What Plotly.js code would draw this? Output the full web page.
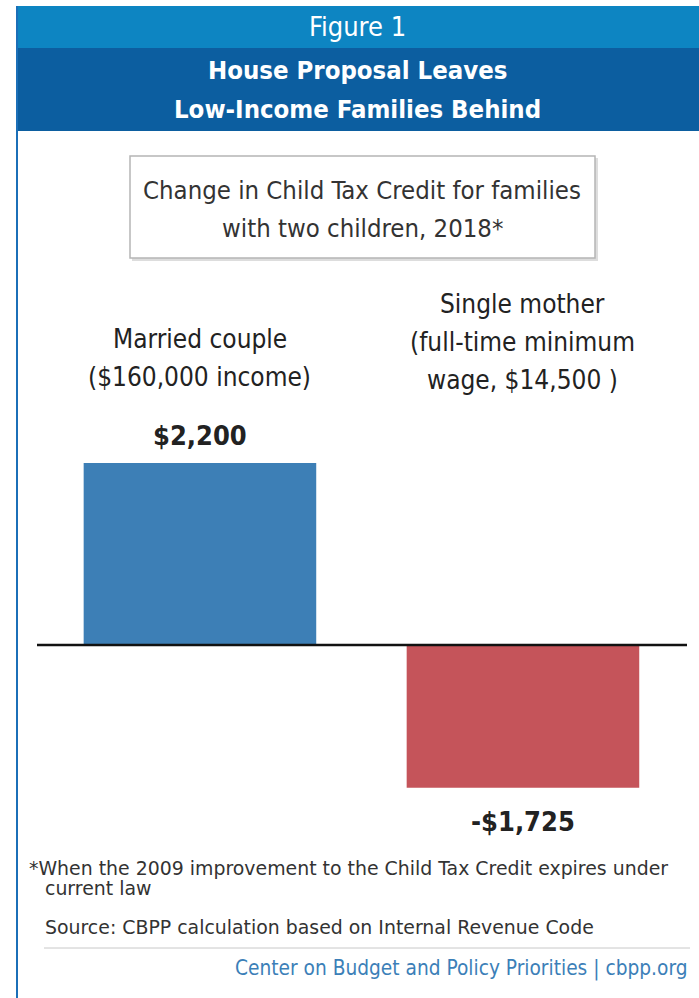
<!DOCTYPE html>
<html>
<head>
<meta charset="utf-8">
<script src="https://cdn.plot.ly/plotly-3.0.1.min.js"></script>
<style>html,body{margin:0;padding:0;background:#fff;}#chart{width:699px;height:998px;}</style>
</head>
<body>
<div id="chart"></div>
<script>
const categories = ["Married couple", "Single mother"];
const categoryLabelLines = [
  ["Married couple", "($160,000 income)"],
  ["Single mother", "(full-time minimum", "wage, $14,500 )"]
];
const values = [2200, -1725];
const barColors = ["#3d7fb6", "#c5545a"];
const headerLines = ["House Proposal Leaves", "Low-Income Families Behind"];
const boxLines = ["Change in Child Tax Credit for families", "with two children, 2018*"];
const footnoteLines = ["*When the 2009 improvement to the Child Tax Credit expires under", "current law"];
const sourceText = "Source: CBPP calculation based on Internal Revenue Code";
const creditText = "Center on Budget and Policy Priorities | cbpp.org";

const W = 699, H = 998;
const px = x => x / W;
const py = y => 1 - y / H;
const cond = '"Liberation Sans Narrow", "DejaVu Sans Condensed", "Roboto Condensed", sans-serif';
const wide = '"DejaVu Sans", Verdana, sans-serif';

function fmt(v) {
  const s = "$" + Math.abs(v).toLocaleString("en-US");
  return v < 0 ? "-" + s : s;
}

const trace = {
  type: "bar",
  x: categories,
  y: values,
  marker: { color: barColors, line: { width: 0 } },
  width: 0.72,
  hoverinfo: "skip"
};

const annotations = [];
function txt(x, y, text, font, xanchor, xref) {
  annotations.push({ xref: xref || "paper", yref: "paper", x: xref ? x : px(x), y: py(y), text: text, showarrow: false,
    font: font, xanchor: xanchor || "center", yanchor: "middle" });
}
// header
txt(357, 27, "Figure 1", { family: cond, size: 27, color: "#ffffff" });
headerLines.forEach((t, i) => txt(357, 70 + i * 39, "<b>" + t + "</b>", { family: cond, size: 25.5, color: "#ffffff" }));
// box
boxLines.forEach((t, i) => txt(362, 190 + i * 38, t, { family: cond, size: 25.5, color: "#333333" }));
// category labels
categoryLabelLines.forEach((lines, i) => {
  const top = i === 0 ? 339 : 304;
  lines.forEach((t, j) => txt(categories[i], top + j * 38, t, { family: cond, size: 26, color: "#222222" }, "center", "x"));
});
// value labels
values.forEach((v, i) => {
  annotations.push({ xref: "x", yref: "y", x: categories[i], y: v, text: "<b>" + fmt(v) + "</b>", showarrow: false,
    font: { family: cond, size: 27, color: "#222222" }, xanchor: "center", yanchor: v >= 0 ? "bottom" : "top",
    yshift: v >= 0 ? 10 : -16 });
});
// footnotes
txt(27, 868, footnoteLines[0], { family: wide, size: 18.9, color: "#333333" }, "left");
txt(43, 888, footnoteLines[1], { family: wide, size: 18.9, color: "#333333" }, "left");
txt(43, 927, sourceText, { family: wide, size: 18.9, color: "#333333" }, "left");
txt(689, 968, creditText, { family: cond, size: 20.7, color: "#3c7fb8" }, "right");

const shapes = [
  { type: "rect", xref: "paper", yref: "paper", x0: px(16), x1: 1, y0: py(48), y1: py(6), fillcolor: "#0d85c2", line: { width: 0 }, layer: "below" },
  { type: "rect", xref: "paper", yref: "paper", x0: px(16), x1: 1, y0: py(131), y1: py(48), fillcolor: "#0c5ea0", line: { width: 0 }, layer: "below" },
  { type: "line", xref: "paper", yref: "paper", x0: px(17), x1: px(17), y0: py(6), y1: 0, line: { color: "#1b6fb8", width: 2 }, layer: "below" },
  // box shadow + box
  { type: "rect", xref: "paper", yref: "paper", x0: px(132), x1: px(598), y0: py(261), y1: py(158), fillcolor: "#dddddd", line: { width: 0 }, layer: "below" },
  { type: "rect", xref: "paper", yref: "paper", x0: px(130), x1: px(595), y0: py(258), y1: py(156), fillcolor: "#ffffff", line: { color: "#b5b5b5", width: 1.5 }, layer: "below" },
  // zero line
  { type: "line", xref: "paper", yref: "y", x0: px(37), x1: px(687), y0: 0, y1: 0, line: { color: "#111111", width: 2.5 } },
  // footer rule
  { type: "line", xref: "paper", yref: "paper", x0: px(44), x1: px(690), y0: py(948), y1: py(948), line: { color: "#c8c8c8", width: 1 }, layer: "below" }
];

const layout = {
  width: W, height: H,
  margin: { l: 0, r: 0, t: 0, b: 0 },
  paper_bgcolor: "#ffffff", plot_bgcolor: "rgba(0,0,0,0)",
  showlegend: false,
  xaxis: { range: [-0.619, 1.545], visible: false, fixedrange: true },
  yaxis: { range: [-4267, 7797], visible: false, zeroline: false, fixedrange: true },
  annotations: annotations,
  shapes: shapes
};

Plotly.newPlot("chart", [trace], layout, { displayModeBar: false, staticPlot: true });
</script>
</body>
</html>
